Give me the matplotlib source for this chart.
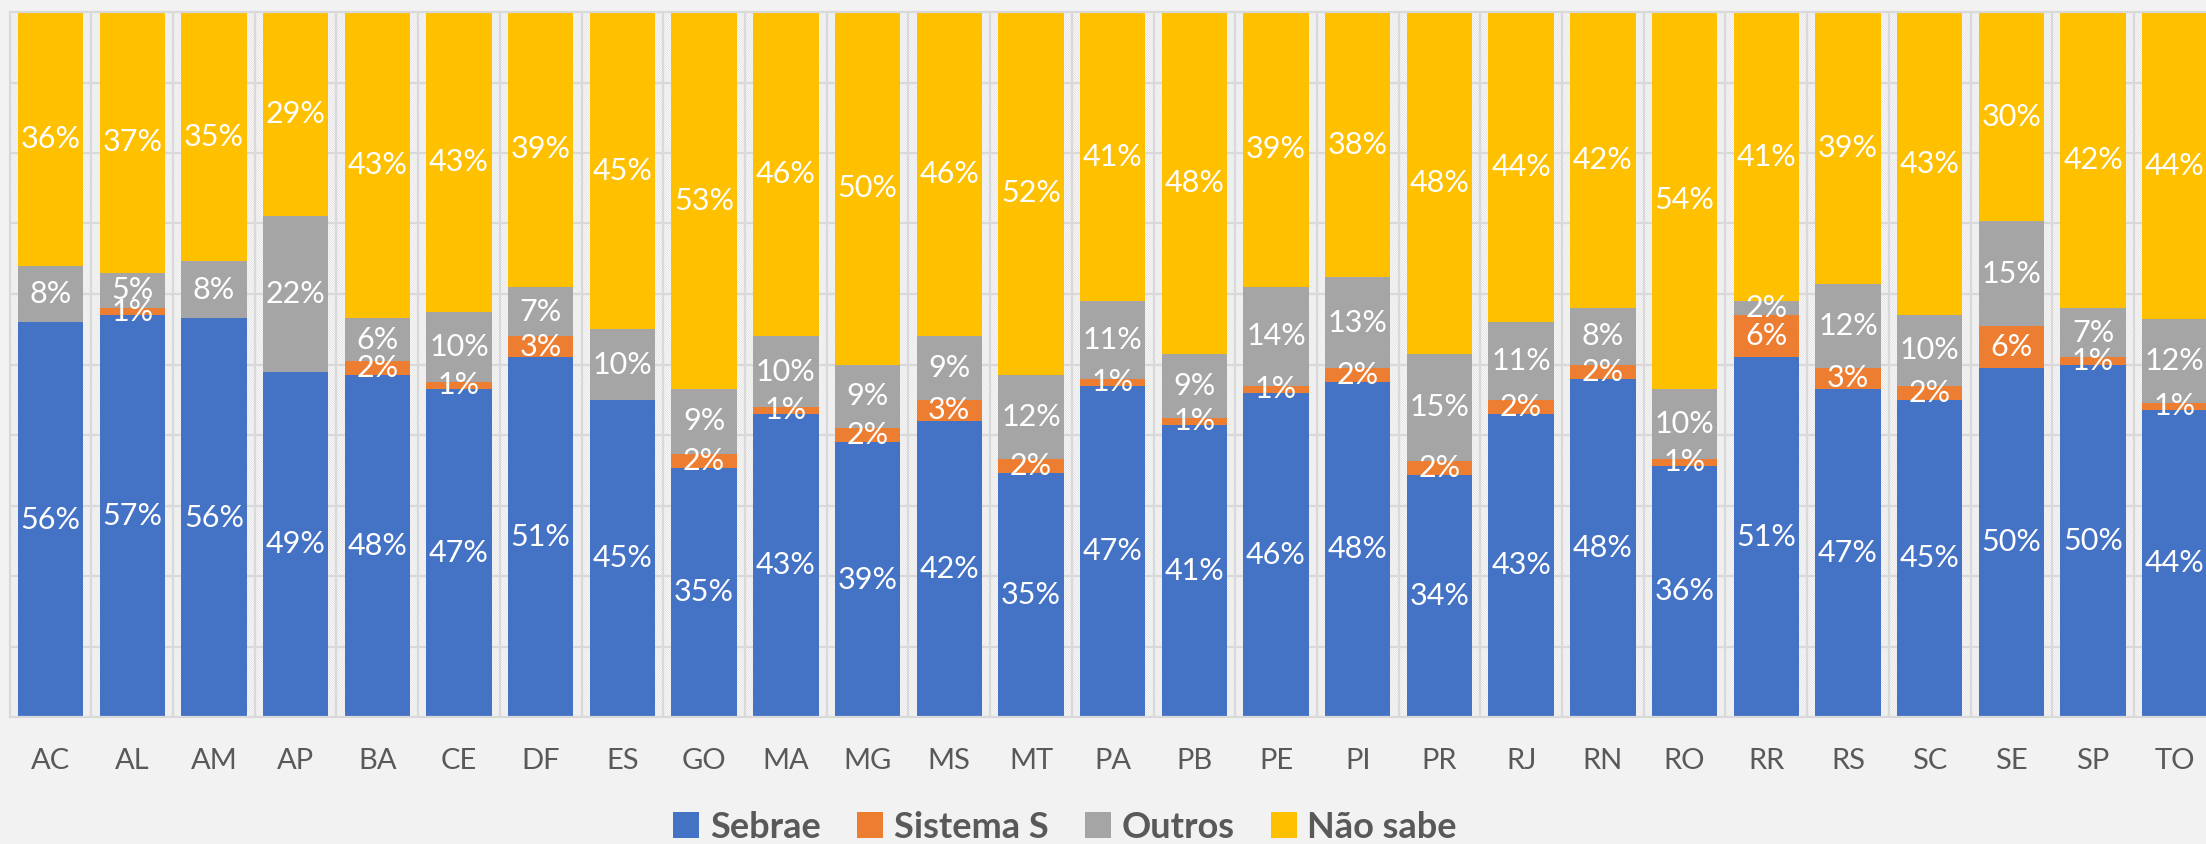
import matplotlib.pyplot as plt
import matplotlib.patches as mpatches
import numpy as np

plt.rcParams['font.family'] = ['Lato', 'DejaVu Sans']
plt.rcParams['hatch.linewidth'] = 0.6

# states
estados = ['AC', 'AL', 'AM', 'AP', 'BA', 'CE', 'DF', 'ES', 'GO', 'MA', 'MG', 'MS', 'MT', 'PA',
           'PB', 'PE', 'PI', 'PR', 'RJ', 'RN', 'RO', 'RR', 'RS', 'SC', 'SE', 'SP', 'TO']

# percentages (0 = no label shown)
sebrae   = [56, 57, 56, 49, 48, 47, 51, 45, 35, 43, 39, 42, 35, 47, 41, 46, 48, 34, 43, 48, 36, 51, 47, 45, 50, 50, 44]
sistemaS = [0, 1, 0, 0, 2, 1, 3, 0, 2, 1, 2, 3, 2, 1, 1, 1, 2, 2, 2, 2, 1, 6, 3, 2, 6, 1, 1]
outros   = [8, 5, 8, 22, 6, 10, 7, 10, 9, 10, 9, 9, 12, 11, 9, 14, 13, 15, 11, 8, 10, 2, 12, 10, 15, 7, 12]
naosabe  = [36, 37, 35, 29, 43, 43, 39, 45, 53, 46, 50, 46, 52, 41, 48, 39, 38, 48, 44, 42, 54, 41, 39, 43, 30, 42, 44]

series = [('Sebrae', sebrae, '#4472C4'),
          ('Sistema S', sistemaS, '#ED7D31'),
          ('Outros', outros, '#A5A5A5'),
          ('Não sabe', naosabe, '#FFC000')]

total = np.array(sebrae) + np.array(sistemaS) + np.array(outros) + np.array(naosabe)

fig = plt.figure(figsize=(22.06, 8.44), dpi=100)
fig.patch.set_facecolor('#f2f2f2')
ax = fig.add_axes([9.65 / 2206, 127 / 844, 2206 / 2206, 705 / 844])
ax.set_facecolor('white')

x = np.arange(len(estados))

# hatched plot area background
bg = mpatches.Rectangle((0, 0), 1, 1, transform=ax.transAxes, facecolor='white',
                        edgecolor='#e0e0e0', hatch='\\' * 14, linewidth=0, zorder=0)
ax.add_patch(bg)

# grid lines
for yy in np.arange(0.1, 1.0, 0.1):
    ax.axhline(yy, color='#d9d9d9', lw=1.6, zorder=1)
for xx in x[:-1] + 0.5:
    ax.axvline(xx, color='#d9d9d9', lw=1.6, zorder=1)

bottom = np.zeros(len(estados))
handles = []
for name, vals, col in series:
    v = np.array(vals) / total
    bars = ax.bar(x, v, 0.8, bottom=bottom, color=col, zorder=2, label=name)
    labels = ['%d%%' % a if a > 0 else '' for a in vals]
    ax.bar_label(bars, labels=labels, label_type='center', color='white', fontsize=22)
    bottom += v
    handles.append(bars)

ax.set_xlim(-0.5, len(estados) - 0.5)
ax.set_ylim(0, 1)
ax.set_yticks([])
ax.set_xticks(x)
ax.set_xticklabels(estados, fontsize=21, color='#595959')
ax.tick_params(axis='x', length=0, pad=22)
for s in ax.spines.values():
    s.set_color('#d9d9d9')
    s.set_linewidth(1.6)

fig.legend(handles=handles, loc='center', bbox_to_anchor=(1065 / 2206, 1 - 827 / 844),
           ncol=4, frameon=False, handlelength=0.72, handleheight=0.72,
           handletextpad=0.3, columnspacing=1.0,
           prop={'weight': 'bold', 'size': 26}, labelcolor='#595959')

fig.savefig('out.png', dpi=100, facecolor=fig.get_facecolor())
